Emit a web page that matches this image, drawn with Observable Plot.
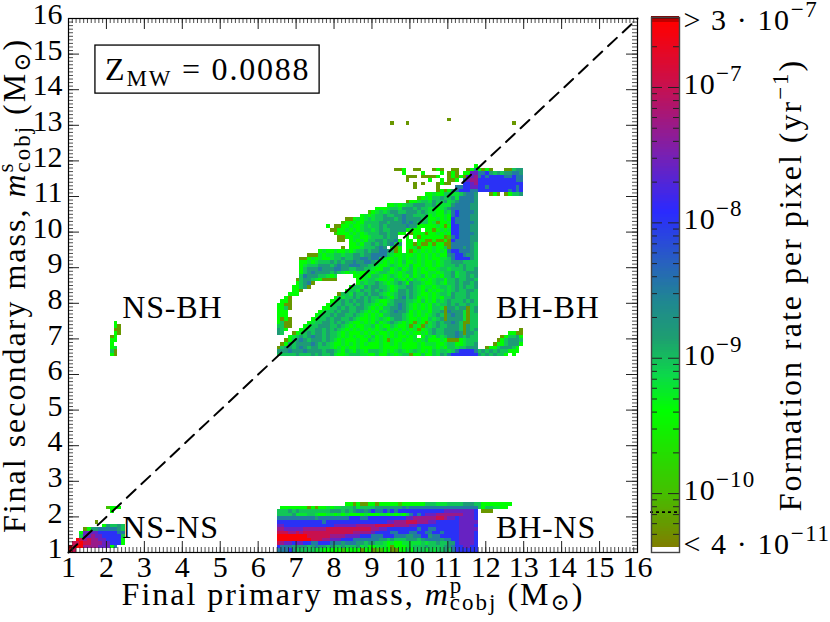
<!DOCTYPE html>
<html>
<head>
<meta charset="utf-8">
<script src="https://cdn.jsdelivr.net/npm/d3@7"></script>
<script src="https://cdn.jsdelivr.net/npm/@observablehq/plot@0.6"></script>
<style>
  html, body { margin: 0; padding: 0; background: #fff; }
  #chart { display: flex; width: 830px; height: 622px; }
  #chart svg { display: block; flex: none; overflow: visible; }
</style>
</head>
<body>
<div id="chart"></div>
<script>
// Colour scale: log10(formation rate per pixel) -> colour
const colorStops = [-10.44, -10.41, -10.4, -10, -9.4, -9.14, -8.87, -8.6, -8.3, -7.93, -7.5, -7, -6.53, -6.51, -6.4];
const colorRange = ["#ffffff", "#ffffff", "#7f7f00", "#44c000", "#00ff00", "#0cd84a", "#1e9f70", "#1f8890", "#2860c0", "#2a2aff", "#7a20b0", "#c8104e", "#ff0000", "#800000", "#800000"];

// Each letter in a grid row is one 0.1 x 0.1 Msun pixel, '.' is empty. Value = log10(rate)
const rateLevels = {o: -10.25, l: -9.95, g: -9.4, f: -9.22, e: -9.05, t: -8.82, u: -8.5, b: -7.98, v: -7.6, m: -7.3, c: -7, r: -6.56, d: -6.45};

// Columns are in groups of five (0.5 Msun); x starts at 6.5
const bhBhRows = [
  [13.1, "..... ..... ..... ..... ..... ..... ..... ..... ..... o.... ..... ..... ....."],
  [13.0, "..... ..... ..... ..... ..... ..... o...o ..... ..... ..... ..... ..... ..o.."],
  [11.8, "..... ..... ..... ..... ..... ..... ..... ..... ..... ..... ..g.. ..... ....."],
  [11.7, "..... ..... ..... ..... ..... ..... .oog. .oo.. .ogo. .oo.. ogugo go... ooett"],
  [11.6, "..... ..... ..... ..... ..... ..... ...g. ...g. ...g. ogo.g gvvuu btete ttuut"],
  [11.5, "..... ..... ..... ..... ..... ..... ....o oo.oo oog.. ogogo vvmub ubbbb uubuu"],
  [11.4, "..... ..... ..... ..... ..... ..... ....o ..... g..g. oog.u vmmbb bbbbb bbbuu"],
  [11.3, "..... ..... ..... ..... ..... ..... ..... .o.o. ..ogo o...b bvmbb bbbbb bbbbb"],
  [11.2, "..... ..... ..... ..... ..... ..... ..... .o... ..o.. ..uub bvvbb ubbbb bbbub"],
  [11.1, "..... ..... ..... ..... ..... ..... ..... ..... ..ogo gtubb buubb bbbbb bubub"],
  [11.0, "..... ..... ..... ..... ..... ..... ..... ....g gfgge effet uut.. .ogo. ogeet"],
  [10.9, "..... ..... ..... ..... ..... ..... ..... ..lgf geete etfuu uut.."],
  [10.8, "..... ..... ..... ..... ..... ..... ....o ggfee fteet fetuu uut.."],
  [10.7, "..... ..... ..... ..... ..... ....g gfgfe ettte etfff ftuuu utt.."],
  [10.6, "..... ..... ..... ..... ..... .gggf eeftt tetee ffgfe tuuuu utt.."],
  [10.5, "..... ..... ..... ..... ....l gfefe tteet ttete ffgge fubuu uut.."],
  [10.4, "..... ..... ..... ..... ..gfg feete ettut teeet gfggf gubuu utt.."],
  [10.3, "..... ..... ..... ...oo gfgfe feett tetut tttee ggfgf gbuuu utt.."],
  [10.2, "..... ..... ..... ..lgg fggee eette tttut uteee gfogg fbuuu uut.."],
  [10.1, "..... ..... ...g. ooggf ggfef eetet ttttu ttggg ggfgo gbbuu utt.."],
  [10.0, "..... ..... ....o oggfg fgfee fetee ttttg fgg.g gogfg fbbuu utt.."],
  [9.9,  "..... ..... ..... lgggf gfgfe eette ttgg. ogggo ggfgf gbbuu uut.."],
  [9.8,  "..... ..... ..... .oogg ffggf eeete tt..g .gogg ggggo lubuu utt.."],
  [9.7,  "..... ..... ..... .oo.g fgfge ettet tug.g g.ggo ogoog obuuu utt.."],
  [9.6,  "..... ..... ..... ....g gfgee tetet uet.g gogoo goggo ouuuu ute.."],
  [9.5,  "..... ..... ..... ..o.g ggfee etut. fog.g gfogg gfgge ouuut ute.."],
  [9.4,  "..... ..... .gfgg fggfg feete ttuut eog.g ogfgf gfgfg ubbuu ute.."],
  [9.3,  "..... ...oo ofgff eefee ttett uuuue fggfg gfgfg fgfgg tubbu tte.."],
  [9.2,  "..... .oogf gfggf eetee ttuut uuefg gfgfg ffgfg fggff eubbb bte.."],
  [9.1,  "..... .ggfg feeet etett uttuu tefgf gfgeg gfgfg gfgfe ettte eee.."],
  [9.0,  "..... .gfee ettte tuttu uutte efggf efgfg eggfg gfgfe eetet eee.."],
  [8.9,  "..... .gett tuttt uutte ettee fggee gfegf egfgf ggfee feeet eet.."],
  [8.8,  "..... .getu tttte tefgf gfggf gfeef gfgfe egfgg ffgfe etfee ttt.."],
  [8.7,  "..... .eutt teefg f.... gggfg eefgf efgfg egfeg fgfge etfee tet.."],
  [8.6,  "..... oette fgooo o.... .ggfe efggf gefge gefgf gfeeg eetee tte.."],
  [8.5,  "..... getuo ..... ..... .gefe etefg feteg teefg gfefg eetet tet.."],
  [8.4,  "....g geto. ..... ....g eefte tteef gfeet tefgf fgfee fetet eet.."],
  [8.3,  "....g go... ..... ...ge eftee tetef gftte tefge gfgfe fetee tte.."],
  [8.2,  "...gg g.... ..... .oeef teete ttefg fette tefgg fgfee fteee tee.."],
  [8.1,  "..go. ..... ..... gefee tetet eetef getue tegfg fgfge eteee tee.."],
  [8.0,  ".ggo. ..... ....g fetet ettet efggf ettte efgeg fgefe teeet ete.."],
  [7.9,  "ggoo. ..... ...gf eetee tetee fgfge etute fgfgf gefee tetee tee.."],
  [7.8,  "ggeo. ..... ..gge etete ettef gfgee ttute fgfgf geefo ttett oet.."],
  [7.7,  "ggg.. ..... .gfee tette etefg fgefe tutte gfgff geeto utttf oet.."],
  [7.6,  "ggg.. ..... gfeet ettee tefgf gfgee tttef gfgfg feteo tuttf oee.."],
  [7.5,  "gogo. ....g feete tteet efggf gfefg ettef ggfgg efeto ttttf oee.."],
  [7.4,  "geoo. ...gf eette tetef ggfgf gegfe tefgf gofgo fetet tuteo oee.."],
  [7.3,  "eeoo. ..gfe ettte etefg fggff egfgg efggf ofgoe fetee ttteo tee.."],
  [7.2,  "teg.. .gfee ttete tefgf gfgfg fgfeg fgfgf gfogf eteet ttteo tet.. ..... ....o"],
  [7.1,  "te..o gfete ttete efgfg ggfgf gfggf gfgfg fggfg eteet ttuto tte.. ..... .ggoo"],
  [7.0,  "...gf etetu ttete efgfg fggfg egfgf gfggf gf.ge fgefe ttute tee.. ....o geetg"],
  [6.9,  "..oge tutet ttete fgfgg gfgge fgfgo fggfg gfgfe gggfg ooogf eee.. ...og ettte"],
  [6.8,  ".ogte ttttu tetef ggfgf gfgfg ggfgg fgfgg ggfgf ffggf eeggf eet.. ..ogg etttg"],
  [6.7,  "oette tutet teeef gfgfg gfggg ggfgg ggfgg ggfgg gfgfg eefee ttt.. ogget tteg."],
  [6.6,  "tttut ttutt ttett efgef gefge eefgf gfefg fefgf gefee feubb bbuet etete eggg."],
  [6.5,  "eeeee teeet eteet fggfe eeffg gegge fgfee oggeg gefte ubbbb bbbte tetee g.g.."]
];

// Columns in groups of five; x starts at 6.5
const bhNsRows = [
  [2.3, "..... ..... ..... ...gg ogoog goggg gglgg gggge eefff eeeet tteeg ggggg gg..."],
  [2.2, ".gggg gggog oggfg ffeee tfeee etttt tttut uuuuu uuuuu uuuuu uuueg eeffg g...."],
  [2.1, "eeete teeee eeeet ttete tuutu buubu bubbb bbbbb bbbbv vvvvv vvb.o oo..."],
  [2.0, "eeeet fffee fggff gfgfg gggfg ggffg fgfge ububv vvmmm mmmmv vvb.."],
  [1.9, "uuuuu uuuuu tuuuu uuuub bbuub bbbbb bbbbv vmmmm mmccm vvbvv vvb.."],
  [1.8, "bbbbb bbbbb bbubb bbbbb bbbbb bbbbv vmmmc ccmmm vvbbb bbbvv vvv.."],
  [1.7, "vvbbb bbbbb bbbbb vvvvv vmmmm mcccc cmmmm vvbbb bbbbb bbbvv vvb.."],
  [1.6, "mmvvv vvmmm mmmcc ccccc ccccc mmvvb bbbbb bbubb uubbb bbbvv vvv.."],
  [1.5, "cccmm cmccc ccccc ccccc mmmmm vbbbb uubbb uubbu ubbub bbbvv vvb.."],
  [1.4, "rrrrr rrrcc ccccm mmmvv vvbbb uuubb buuut tuubb tuubb bbbvv vvb.."],
  [1.3, "rrrrr rrrrc ccmmv vvbbb uuuuu uutte teeet ttetu uuutu ubbvv vvb.."],
  [1.2, "cmvvb vvbbu ubbbu uutuu uttet teefg fggff fffef eetee ttbvv vvb.."],
  [1.1, "buuut tttet uttet eetee etfeg gfffg ogggf feeet eeeet tubbv vbb.."],
  [1.0, "uuubt eeeee ffggg gglgg ggogg ollgg oogge geeef efeet eubbb bbb.."]
];

// Columns in groups of five; x starts at 1.0
const nsNsRows = [
  [2.2, "..... ..... lggg."],
  [2.1, "..... ..... .g..."],
  [1.8, "..... ..o.. ....."],
  [1.7, "..... ....g teete"],
  [1.6, "....o gttuu uuute"],
  [1.5, "...gv vvvbb bbbuu"],
  [1.4, "...ev vmvvb bbbbe"],
  [1.3, "..rcm cmmvv bbbbg"],
  [1.2, ".ccrc cmmmv vbbbg"],
  [1.1, "dcrrm mmmvv vgu.."],
  [1.0, "rc..."]
];

// x starts at 2.1
const nsBhRows = [
  [7.4, ".g"], [7.3, ".go"], [7.2, ".oo"], [7.1, ".go"], [7.0, "og"],
  [6.9, "gg"], [6.8, "g"], [6.7, "gf"], [6.6, "eo"], [6.5, "go"]
];

const massTicks = [1, 2, 3, 4, 5, 6, 7, 8, 9, 10, 11, 12, 13, 14, 15, 16];
const barMajor = [1e-10, 1e-9, 1e-8, 1e-7];
const barMinor = [5e-11, 6e-11, 7e-11, 8e-11, 9e-11,
  2e-10, 3e-10, 4e-10, 5e-10, 6e-10, 7e-10, 8e-10, 9e-10,
  2e-9, 3e-9, 4e-9, 5e-9, 6e-9, 7e-9, 8e-9, 9e-9,
  2e-8, 3e-8, 4e-8, 5e-8, 6e-8, 7e-8, 8e-8, 9e-8, 2e-7];
const barDotted = [7.3e-11];
const barLabels = [
  {v: 3e-7, t: "> 3·10−7"}, {v: 1e-7, t: "10−7"}, {v: 1e-8, t: "10−8"},
  {v: 1e-9, t: "10−9"}, {v: 1e-10, t: "10−10"}, {v: 4e-11, t: "< 4·10−11"}
];
const regionLabels = [
  {x: 2.42, y: 7.88, t: "NS-BH"}, {x: 12.27, y: 7.88, t: "BH-BH"},
  {x: 2.42, y: 1.7, t: "NS-NS"}, {x: 12.27, y: 1.7, t: "BH-NS"}
];
const metalBox = {x1: 1.71, x2: 7.62, y1: 13.89, y2: 15.24, x: 4.67, y: 14.56, t: "ZMW = 0.0088"};
const diagonal = [[1, 1], [16, 16]];
const xLabel = "Final primary mass, mpcobj (M⊙)";
const yLabel = "Final secondary mass, mscobj (M⊙)";
const barLabel = "Formation rate per pixel (yr−1)";

function sized(s, attrs) { return `<tspan font-size="23" ${attrs}>${s}</tspan>`; }
function power(base, exp) { return `${base}${sized(exp, 'dy="-13"')}`; }
function mass(sup, subBack) {
  return `<tspan font-style="italic">m</tspan>${sized(sup, 'dy="-12"')}` +
    sized("cobj", `dx="${subBack}" dy="17"`) + `<tspan dy="-5"> (M</tspan>${sized("⊙", 'dy="5"')}<tspan dy="-5">)</tspan>`;
}
const richText = {
  [xLabel]: "Final primary mass, " + mass("p", -13.5),
  [yLabel]: "Final secondary mass, " + mass("s", -11),
  [barLabel]: `Formation rate per pixel (yr${sized("−1", 'dy="-13"')}<tspan dy="13">)</tspan>`,
  [metalBox.t]: `Z${sized("MW", 'dy="6"')}<tspan dy="-6"> = 0.0088</tspan>`,
  "> 3·10−7": power("&gt; 3 · 10", "−7"),
  "10−7": power("10", "−7"),
  "10−8": power("10", "−8"),
  "10−9": power("10", "−9"),
  "10−10": power("10", "−10"),
  "< 4·10−11": power("&lt; 4 · 10", "−11")
};
// letter spacing (px) that brings the serif font to the wider set of the original
const spacedTexts = {
  [xLabel]: 2, [yLabel]: 2, [barLabel]: 2, [metalBox.t]: 1.8,
  "> 3·10−7": 1.6, "10−7": 1.2, "10−8": 1.2, "10−9": 1.2, "10−10": 1.2, "< 4·10−11": 1.6,
  "NS-BH": 0.8, "BH-BH": 0.8, "NS-NS": 0.8, "BH-NS": 0.8
};

function expand(rows, x0) {
  return rows.flatMap(([y, row]) =>
    [...row.replace(/ /g, "")].flatMap((c, i) =>
      c === "." ? [] : [{x: x0 + i / 10, y, level: rateLevels[c]}]));
}
const cells = [
  ...expand(bhBhRows, 6.5), ...expand(bhNsRows, 6.5),
  ...expand(nsNsRows, 1), ...expand(nsBhRows, 2.1)
];
const minorTicks = d3.range(10, 161).map(d => d / 10);

const colorScale = {type: "linear", domain: colorStops, range: colorRange, clamp: true};
const fontFamily = "'Liberation Serif', 'DejaVu Serif', serif";
const tickColor = "#222";

// main panel
const W = 640, H = 622, mL = 68, mR = 3, mT = 18, mB = 70;
const innerW = W - mL - mR, innerH = H - mT - mB;
const edgeTicks = (vals, len, sw) => [
  Plot.ruleX(vals, {stroke: tickColor, strokeWidth: sw, insetTop: innerH - len}),
  Plot.ruleX(vals, {stroke: tickColor, strokeWidth: sw, insetBottom: innerH - len}),
  Plot.ruleY(vals, {stroke: tickColor, strokeWidth: sw, insetRight: innerW - len}),
  Plot.ruleY(vals, {stroke: tickColor, strokeWidth: sw, insetLeft: innerW - len})
];
const main = Plot.plot({
  width: W, height: H, marginLeft: mL, marginRight: mR, marginTop: mT, marginBottom: mB,
  style: {fontFamily, fontSize: "30px", color: "#000", background: "transparent", overflow: "visible"},
  x: {domain: [1, 16]},
  y: {domain: [1, 16]},
  color: colorScale,
  marks: [
    Plot.rect(cells, {x1: "x", x2: d => d.x + 0.1, y1: "y", y2: d => d.y + 0.1, fill: "level", inset: 0, shapeRendering: "crispEdges"}),
    Plot.line(diagonal, {x: d => d[0], y: d => d[1], stroke: "#000", strokeWidth: 2, strokeDasharray: "12,8"}),
    ...edgeTicks(minorTicks, 5, 0.8),
    ...edgeTicks(massTicks, 11, 1),
    Plot.frame({stroke: "#000", strokeWidth: 1.2}),
    Plot.axisX(massTicks, {anchor: "bottom", tickSize: 0, tickPadding: 3, label: null, tickFormat: d => String(d), fontSize: 30}),
    Plot.axisY(massTicks, {anchor: "left", tickSize: 0, tickPadding: 6, dy: -4, label: null, tickFormat: d => String(d), fontSize: 30}),
    Plot.rect([metalBox], {x1: "x1", x2: "x2", y1: "y1", y2: "y2", fill: "none", stroke: "#000", strokeWidth: 1.3}),
    Plot.text([metalBox], {x: "x", y: "y", text: "t", textAnchor: "middle", fontSize: 32}),
    Plot.text(regionLabels, {x: "x", y: "y", text: "t", textAnchor: "start", fontSize: 32}),
    Plot.text([xLabel], {frameAnchor: "bottom", textAnchor: "middle", lineAnchor: "middle", dy: 42, fontSize: 32}),
    Plot.text([yLabel], {frameAnchor: "left", textAnchor: "middle", lineAnchor: "middle", dx: -54, rotate: -90, fontSize: 32})
  ]
});

// colour bar panel
const bW = 190, bL = 11, bR = 151, bT = 17, bB = 70, barW = bW - bL - bR;
const barLevels = d3.range(-10.44, -6.48, 0.02);
const bar = Plot.plot({
  width: bW, height: H, marginLeft: bL, marginRight: bR, marginTop: bT, marginBottom: bB,
  style: {fontFamily, fontSize: "30px", color: "#000", background: "transparent", overflow: "visible"},
  x: {domain: [0, 1], axis: null},
  y: {type: "log", domain: [Math.pow(10, -10.435), Math.pow(10, -6.483)], axis: null},
  color: colorScale,
  marks: [
    Plot.rect(barLevels, {x1: () => 0, x2: () => 1, y1: d => Math.pow(10, d), y2: d => Math.pow(10, d + 0.021), fill: d => d, inset: 0, shapeRendering: "crispEdges"}),
    Plot.ruleY(barMinor, {stroke: tickColor, strokeWidth: 1, insetRight: barW - 6}),
    Plot.ruleY(barMinor, {stroke: tickColor, strokeWidth: 1, insetLeft: barW - 6}),
    Plot.ruleY(barMajor, {stroke: tickColor, strokeWidth: 1, insetRight: barW - 11}),
    Plot.ruleY(barMajor, {stroke: tickColor, strokeWidth: 1, insetLeft: barW - 11}),
    Plot.ruleY(barDotted, {stroke: "#000", strokeWidth: 1.6, strokeDasharray: "3,3", insetLeft: -1, insetRight: -1}),
    Plot.frame({stroke: "#444", strokeWidth: 1.4}),
    Plot.text(barLabels, {y: "v", text: "t", frameAnchor: "right", textAnchor: "start", dx: 4, dy: -3, fontSize: 30}),
    Plot.text([barLabel], {frameAnchor: "right", textAnchor: "middle", lineAnchor: "middle", dx: 111, rotate: -90, fontSize: 32})
  ]
});

const root = document.getElementById("chart");
root.append(main, bar);
root.querySelectorAll("text").forEach(t => {
  const key = t.textContent;
  if (spacedTexts[key]) t.style.letterSpacing = spacedTexts[key] + "px";
  if (richText[key]) t.innerHTML = richText[key];
});
</script>
</body>
</html>
